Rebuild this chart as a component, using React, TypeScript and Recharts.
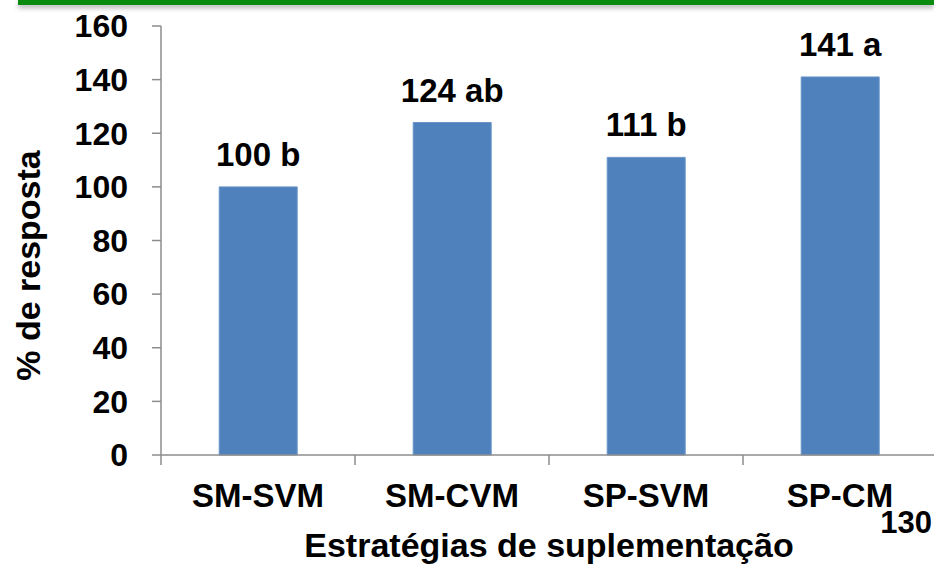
import { BarChart, Bar, XAxis, YAxis, LabelList } from 'recharts'

const estrategias = ['SM-SVM', 'SM-CVM', 'SP-SVM', 'SP-CM']
const resposta = [100, 124, 111, 141]
const letras = ['b', 'ab', 'b', 'a']
const yTicks = [0, 20, 40, 60, 80, 100, 120, 140, 160]

const data = estrategias.map((nome, i) => ({ nome, valor: resposta[i], letra: letras[i] }))

const FONT = '"Liberation Sans", Arial, sans-serif'
const AXIS = '#8c8c8c'

// rótulo da categoria + marca de divisão na borda esquerda da banda
function CatTick(props: any) {
  const { x, y, payload, index } = props
  const half = payload.offset ?? 97
  return (
    <g>
      <line x1={x - half} x2={x - half} y1={y} y2={y + 10} stroke={AXIS} strokeWidth={1.5} />
      {index === estrategias.length - 1 && (
        <line x1={x + half} x2={x + half} y1={y} y2={y + 10} stroke={AXIS} strokeWidth={1.5} />
      )}
      <text x={x} y={y + 52} textAnchor="middle" fontFamily={FONT} fontWeight={700} fontSize={33} fill="#000">
        {payload.value}
      </text>
    </g>
  )
}

function ValueLabel(props: any) {
  const { x, y, width, index } = props
  return (
    <text x={x + width / 2} y={y - 21} textAnchor="middle" fontFamily={FONT} fontWeight={700} fontSize={33} fill="#000">
      {`${resposta[index]} ${letras[index]}`}
    </text>
  )
}

export default function App() {
  return (
    <div style={{ position: 'absolute', left: 0, top: 0, width: 934, height: 570, overflow: 'hidden', background: '#fff' }}>
      {/* faixa verde do slide */}
      <div
        style={{
          position: 'absolute',
          left: 18,
          right: 0,
          top: 0,
          height: 5,
          background: '#0a8a0f',
          boxShadow: '0 3px 5px rgba(0,0,0,0.3)',
        }}
      />
      <BarChart
        width={940}
        height={570}
        data={data}
        margin={{ top: 26, right: 3, left: 0, bottom: 0 }}
        barCategoryGap="30%"
      >
        <XAxis
          dataKey="nome"
          height={115}
          stroke={AXIS}
          strokeWidth={1.5}
          tickLine={false}
          tickSize={0}
          tickMargin={0}
          tick={<CatTick />}
          interval={0}
          label={{
            content: (p: any) => {
              const vb = p.viewBox
              return (
                <text
                  x={vb.x + vb.width / 2}
                  y={vb.y + 102}
                  textAnchor="middle"
                  fontFamily={FONT}
                  fontWeight={700}
                  fontSize={34}
                  fill="#000"
                >
                  Estratégias de suplementação
                </text>
              )
            },
          }}
        />
        <YAxis
          width={161}
          domain={[0, 160]}
          ticks={yTicks}
          interval={0}
          stroke={AXIS}
          strokeWidth={1.5}
          tickSize={9}
          tickMargin={24}
          tick={{ fontFamily: FONT, fontWeight: 700, fontSize: 32, fill: '#000' }}
          label={{
            content: (p: any) => {
              const vb = p.viewBox
              return (
                <text
                  x={40}
                  y={vb.y + vb.height / 2 + 25}
                  transform={`rotate(-90, 40, ${vb.y + vb.height / 2 + 25})`}
                  textAnchor="middle"
                  fontFamily={FONT}
                  fontWeight={700}
                  fontSize={34}
                  fill="#000"
                >
                  % de resposta
                </text>
              )
            },
          }}
        />
        <Bar dataKey="valor" fill="#4f81bd" stroke="#6a95c8" strokeWidth={1} isAnimationActive={false}>
          <LabelList dataKey="valor" content={<ValueLabel />} />
        </Bar>
      </BarChart>
      <svg width={934} height={570} style={{ position: 'absolute', left: 0, top: 0, pointerEvents: 'none' }}>
        <text x={932} y={533} textAnchor="end" fontFamily={FONT} fontWeight={700} fontSize={31} fill="#000">
          130
        </text>
      </svg>
    </div>
  )
}
